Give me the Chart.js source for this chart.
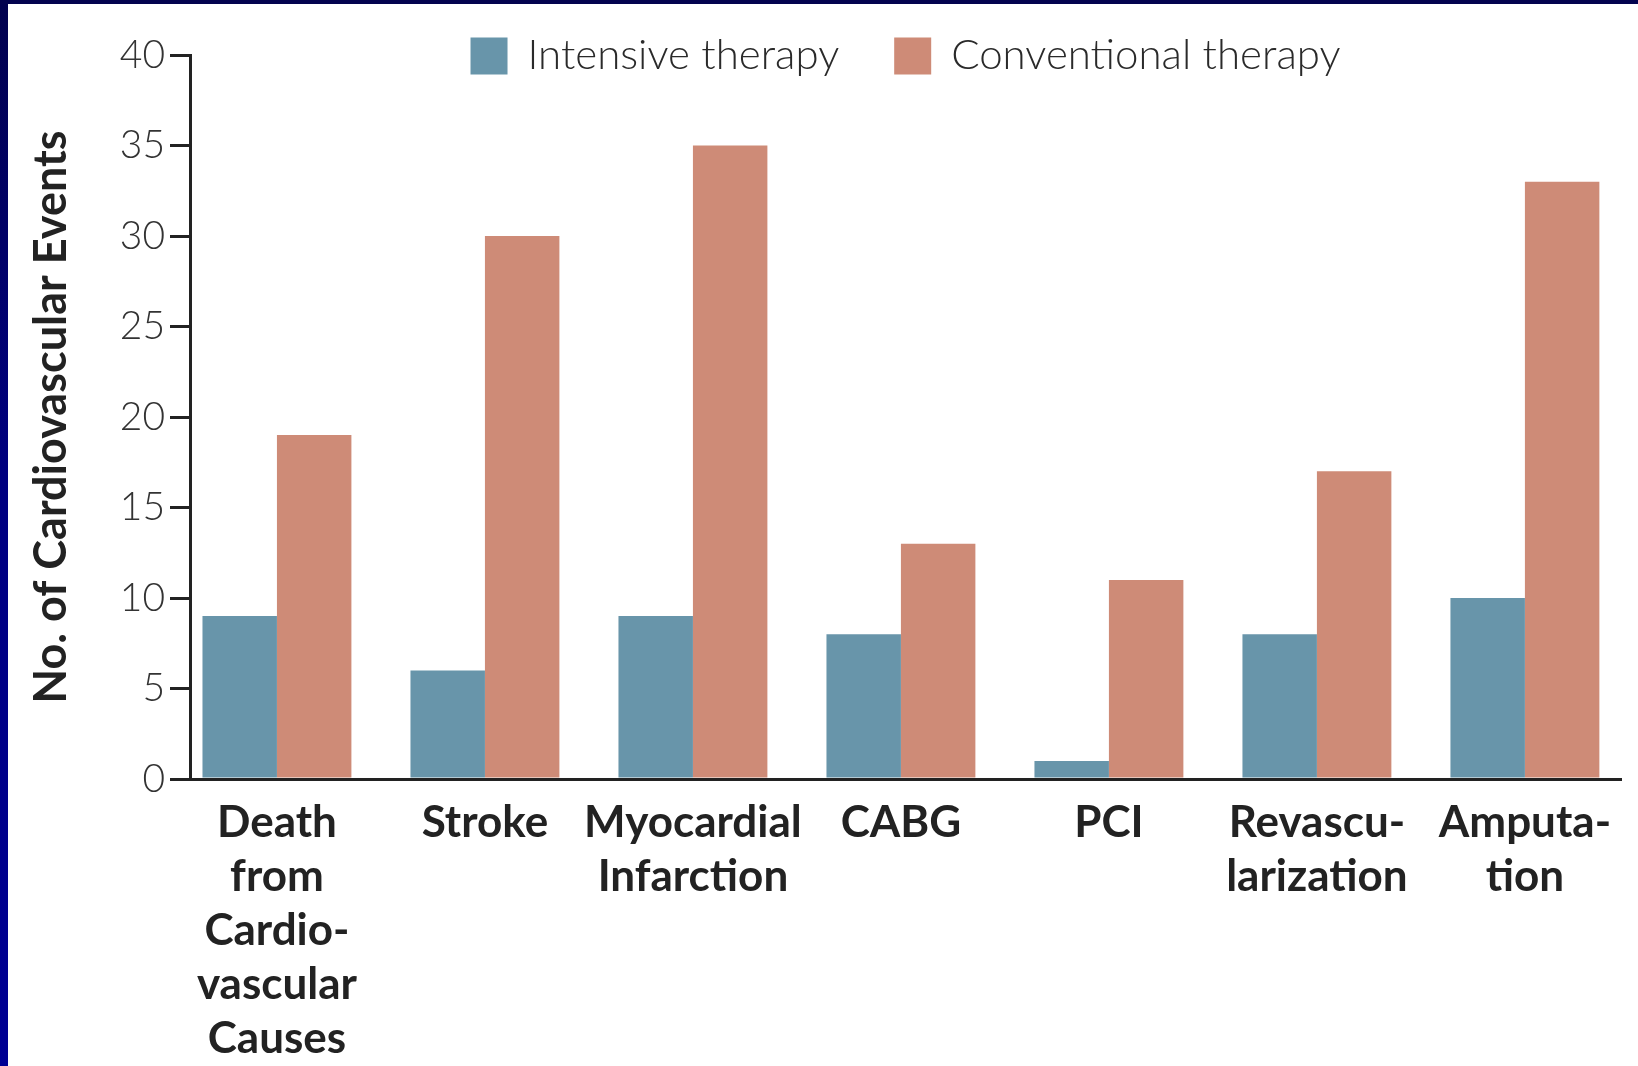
<!DOCTYPE html>
<html>
<head>
<meta charset="utf-8">
<script src="https://cdn.jsdelivr.net/npm/chart.js@4.4.1/dist/chart.umd.min.js"></script>
<style>
    html, body { margin: 0; padding: 0; background: #ffffff; }
    .chart-wrap { position: relative; width: 1638px; height: 1066px; overflow: hidden; }
    .frame-left {
        position: absolute; left: 0; top: 0; width: 8px; height: 1066px;
        background: linear-gradient(to bottom, #02024f 0%, #000080 45%, #000094 100%);
    }
    .frame-top { position: absolute; left: 0; top: 0; width: 1638px; height: 4px; background: #03034f; }
</style>
</head>
<body>
<div class="chart-wrap">
    <canvas id="eventsChart" width="1638" height="1066"></canvas>
    <div class="frame-left"></div>
    <div class="frame-top"></div>
</div>
<script>
/**
 * Chart values
 */
const categories = [
    ["Death", "from", "Cardio-", "vascular", "Causes"],
    ["Stroke"],
    ["Myocardial", "Infarction"],
    ["CABG"],
    ["PCI"],
    ["Revascu-", "larization"],
    ["Amputa-", "tion"],
];
const intensiveTherapy = [9, 6, 9, 8, 1, 8, 10];
const conventionalTherapy = [19, 30, 35, 13, 11, 17, 33];
const yTicks = [0, 5, 10, 15, 20, 25, 30, 35, 40];

const seriesNames = ["Intensive therapy", "Conventional therapy"];
const seriesColors = ["#6895aa", "#ce8b77"];

const inkColor = "#222222";

/**
 * Legend drawn inside the top of the plot, centred on the plot area
 */
const topLegend = {
    id: "topLegend",
    afterDraw(chart) {
        const ctx = chart.ctx;
        const area = chart.chartArea;
        const box = 37;
        const boxGap = 20;
        const itemGap = 55;
        ctx.save();
        ctx.font = "300 42px Lato";
        const widths = chart.data.datasets.map(ds => ctx.measureText(ds.label).width);
        const total = widths.reduce((a, w) => a + box + boxGap + w, 0) + itemGap * (widths.length - 1);
        let x = (area.left + area.right) / 2 - total / 2;
        const cy = area.top;
        chart.data.datasets.forEach((ds, i) => {
            ctx.fillStyle = ds.backgroundColor;
            ctx.fillRect(x, cy - box / 2 + 1, box, box);
            x += box + boxGap;
            ctx.fillStyle = "#2a2a2a";
            ctx.textBaseline = "middle";
            ctx.textAlign = "left";
            ctx.fillText(ds.label, x, cy);
            x += widths[i] + itemGap;
        });
        ctx.restore();
    },
};

function toPoints(values) {
    return values.map((v, i) => ({ x: i, y: v }));
}

const ctx = document.getElementById("eventsChart").getContext("2d");
new Chart(ctx, {
    type: "bar",
    data: {
        datasets: [
            {
                label: seriesNames[0],
                data: toPoints(intensiveTherapy),
                backgroundColor: seriesColors[0],
                borderWidth: 0,
            },
            {
                label: seriesNames[1],
                data: toPoints(conventionalTherapy),
                backgroundColor: seriesColors[1],
                borderWidth: 0,
            },
        ],
    },
    options: {
        responsive: false,
        devicePixelRatio: 1,
        animation: false,
        categoryPercentage: 0.716,
        barPercentage: 1.0,
        layout: { padding: { left: 0, top: 55, right: 17, bottom: 0 } },
        plugins: {
            legend: { display: false },
            tooltip: { enabled: false },
        },
        scales: {
            x: {
                type: "linear",
                bounds: "data",
                offset: false,
                min: -0.418,
                max: 6.462,
                afterFit: (scale) => { scale.height = 287; },
                // one tick per category, at the centre of each bar pair
                afterBuildTicks: (scale) => { scale.ticks = categories.map((c, i) => ({ value: i })); },
                grid: { display: true, drawOnChartArea: false, drawTicks: false },
                border: { display: true, color: inkColor, width: 3 },
                ticks: {
                    autoSkip: false,
                    maxRotation: 0,
                    padding: 17,
                    color: inkColor,
                    font: { family: "Lato", size: 44, weight: "bold", lineHeight: "54px" },
                    callback: (value, index) => categories[index],
                },
            },
            y: {
                min: yTicks[0],
                max: yTicks[yTicks.length - 1],
                afterFit: (scale) => { scale.width = 190; },
                afterBuildTicks: (scale) => { scale.ticks = yTicks.map(v => ({ value: v })); },
                grid: { drawOnChartArea: false, drawTicks: true, tickLength: 20, lineWidth: 3, color: inkColor },
                border: { display: true, color: inkColor, width: 3 },
                ticks: {
                    padding: 5,
                    color: "#333333",
                    font: { family: "Lato", size: 39, weight: "300" },
                },
                title: {
                    display: true,
                    text: "No. of Cardiovascular Events",
                    color: inkColor,
                    padding: { top: 24, bottom: 0 },
                    font: { family: "Lato", size: 45, weight: "bold", lineHeight: 1.2 },
                },
            },
        },
    },
    plugins: [topLegend],
});
</script>
</body>
</html>
